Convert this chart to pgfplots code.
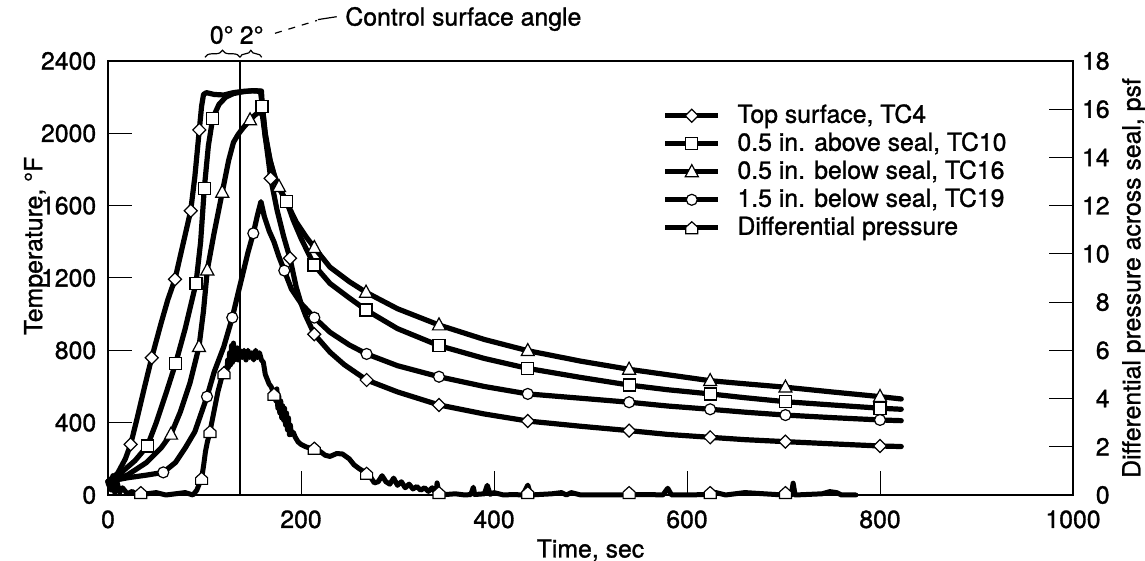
\documentclass[border=0pt]{standalone}
\usepackage{pgfplots}
\pgfplotsset{compat=1.18}
\usepackage{fontspec}
\setmainfont{TeX Gyre Heros}[FakeBold=1.2]
\usetikzlibrary{decorations.pathreplacing}

\pgfdeclareplotmark{rdiamond}{%
  \pgfpathmoveto{\pgfqpoint{0pt}{\pgfplotmarksize}}%
  \pgfpathlineto{\pgfqpoint{\pgfplotmarksize}{0pt}}%
  \pgfpathlineto{\pgfqpoint{0pt}{-\pgfplotmarksize}}%
  \pgfpathlineto{\pgfqpoint{-\pgfplotmarksize}{0pt}}%
  \pgfpathclose\pgfusepathqfillstroke}
\pgfdeclareplotmark{rtri}{%
  \pgfpathmoveto{\pgfqpoint{0pt}{1.1\pgfplotmarksize}}%
  \pgfpathlineto{\pgfqpoint{\pgfplotmarksize}{-0.75\pgfplotmarksize}}%
  \pgfpathlineto{\pgfqpoint{-\pgfplotmarksize}{-0.75\pgfplotmarksize}}%
  \pgfpathclose\pgfusepathqfillstroke}
\pgfdeclareplotmark{house}{%
  \pgfpathmoveto{\pgfqpoint{-\pgfplotmarksize}{-\pgfplotmarksize}}%
  \pgfpathlineto{\pgfqpoint{\pgfplotmarksize}{-\pgfplotmarksize}}%
  \pgfpathlineto{\pgfqpoint{\pgfplotmarksize}{0.1\pgfplotmarksize}}%
  \pgfpathlineto{\pgfqpoint{0pt}{\pgfplotmarksize}}%
  \pgfpathlineto{\pgfqpoint{-\pgfplotmarksize}{0.1\pgfplotmarksize}}%
  \pgfpathclose\pgfusepathqfillstroke}

\pgfplotsset{
  curve/.style={line width=2.6pt, line join=round, line cap=round, black, no markers},
  mk/.style={only marks, mark options={fill=white, draw=black, line width=0.6pt, solid}},
}

\begin{document}
\fontsize{12.4pt}{14.8pt}\selectfont
\begin{tikzpicture}
\begin{axis}[
  at={(0pt,0pt)}, anchor=south west,
  scale only axis, width=482.5pt, height=217pt,
  xmin=0, xmax=1000, ymin=0, ymax=2400,
  xtick={0,200,...,1000}, ytick={0,400,...,2400},
  xtick pos=bottom, ytick pos=left,
  tick align=inside, major tick length=12pt,
  every tick/.style={black, line width=0.5pt},
  axis line style={line width=0.8pt},
  /pgf/number format/assume math mode=true,
  /pgf/number format/1000 sep={},
  xticklabel style={inner sep=0pt, yshift=-7.5pt},
  yticklabel style={inner sep=0pt, xshift=-5.7pt},
  xlabel={Time, sec},
  xlabel style={at={(axis description cs:0.5,0)}, anchor=north, inner sep=0pt, yshift=-22pt},
  ylabel={Temperature, °F},
  ylabel style={at={(axis description cs:-0.0622,0.574)}, rotate=0, anchor=south, inner sep=0pt},
  clip=false,
]
% vertical reference line
\draw[line width=1pt] (axis cs:137,0) -- (axis cs:137,2400);
% TC4 top surface
\addplot[curve] coordinates {(0,75)(10,120)(18,200)(23.5,280)(30,420)(38,600)(45.3,759)(55,950)(62,1080)(69.4,1193)(77,1370)(85.7,1572)(90,1760)(94.6,2019)(97,2150)(99,2215)(102,2225)(110,2215)(120,2212)(130,2225)(140,2232)(150,2235)(158,2232)(160,2150)(163,1980)(166,1860)(168.6,1751)(175,1580)(182,1430)(188.6,1309)(195,1150)(200,1060)(205,990)(213.8,889)(230,790)(245,720)(268,636)(300,570)(343,498)(390,448)(435,409)(490,380)(540,356)(580,335)(624,319)(660,306)(702,295)(750,283)(800,271)(822,268)};
% TC10
\addplot[curve] coordinates {(0,75)(15,130)(28,190)(40.8,271)(50,400)(60,560)(70.1,728)(80,920)(91.2,1171)(96,1400)(99.8,1696)(104,1930)(108.5,2083)(115,2160)(122,2200)(130,2220)(140,2230)(150,2236)(159,2234)(160,2148)(163,2000)(168,1850)(175,1720)(180,1670)(185.2,1622)(192,1520)(200,1420)(213.5,1272)(230,1170)(250,1090)(267.4,1023)(300,920)(343,826)(390,755)(435,700)(490,650)(540,608)(580,582)(624,559)(660,538)(702,516)(750,498)(800,480)(822,474)};
% TC16
\addplot[curve] coordinates {(0,75)(20,110)(40,180)(55,260)(65.3,336)(75,460)(85,620)(94.3,820)(99,1020)(102.9,1244)(110,1450)(118.4,1674)(125,1850)(130,1950)(135,1995)(140,2030)(147.2,2074)(152,2100)(157,2120)(160,2100)(163,1980)(168,1850)(172,1770)(177.2,1705)(185,1620)(195,1510)(205,1430)(213.8,1368)(230,1260)(250,1180)(267.4,1121)(300,1030)(343,940)(390,860)(435,798)(490,740)(540,695)(580,665)(624,632)(660,615)(702,596)(750,570)(800,544)(822,531)};
% TC19
\addplot[curve] coordinates {(0,75)(20,95)(40,110)(57.3,125)(70,180)(80,260)(90,350)(102.6,544)(110,680)(120,820)(128.8,981)(135,1120)(140,1230)(145,1340)(150.6,1447)(155,1550)(158.5,1622)(162,1540)(167,1460)(172,1400)(177,1320)(182.7,1241)(190,1140)(200,1060)(213.8,981)(230,900)(250,830)(268,780)(300,715)(343,654)(390,600)(435,559)(490,535)(540,513)(580,492)(624,474)(660,458)(702,442)(750,428)(800,415)(822,411)};
% markers
\addplot[mk, mark=rdiamond, mark size=3.25pt] coordinates {(23.5,280)(45.3,759)(69.4,1193)(85.7,1572)(94.6,2019)(168.6,1751)(188.6,1309)(213.8,889)(268,636)(343,498)(435,409)(540,356)(624,319)(702,295)(800,271)};
\addplot[mk, mark=square*, mark size=3pt] coordinates {(40.8,271)(70.1,728)(91.2,1171)(99.8,1696)(108.5,2083)(159.5,2148)(185.2,1622)(213.5,1272)(267.4,1023)(343,826)(435,700)(540,608)(624,559)(702,516)(800,480)};
\addplot[mk, mark=rtri, mark size=3.25pt] coordinates {(65.3,336)(94.3,820)(102.9,1244)(118.4,1674)(147.2,2074)(177.2,1705)(213.8,1368)(267.4,1121)(343,940)(435,798)(540,695)(624,632)(702,596)(800,544)};
\addplot[mk, mark=*, mark size=2.75pt] coordinates {(57.3,125)(102.6,544)(128.8,981)(150.6,1447)(182.7,1241)(213.8,981)(268,780)(343,654)(435,559)(540,513)(624,474)(702,442)(800,415)};
\end{axis}

\begin{axis}[
  at={(0pt,0pt)}, anchor=south west,
  scale only axis, width=482.5pt, height=217pt,
  xmin=0, xmax=1000, ymin=0, ymax=18,
  ytick={0,2,...,18},
  axis x line=none, axis y line*=right,
  tick align=inside, major tick length=12pt,
  every tick/.style={black, line width=0.5pt},
  axis line style={line width=0.8pt},
  /pgf/number format/assume math mode=true,
  yticklabel style={anchor=east, inner sep=0pt, xshift=18.5pt},
  ylabel={Differential pressure across seal, psf},
  ylabel style={at={(axis description cs:1.0505,0.5)}, rotate=0, anchor=north, inner sep=0pt},
  clip=false,
  legend style={draw=none, fill=none, inner sep=0pt, outer sep=0pt,
    at={(axis description cs:0.5748,0.9037)}, anchor=north west,
    row sep=1pt, column sep=8.3pt,
    nodes={inner sep=0pt, text height=10pt, text depth=3pt}},
  legend cell align=left,
  legend image code/.code={\draw[mark repeat=2,mark phase=2,#1] plot coordinates {(0pt,0pt) (13.25pt,0pt) (26.5pt,0pt)};},
]
\addplot[curve, line width=2.5pt, forget plot] coordinates {(0,0.5)(3,0.2)(5,0.8)(7,0.1)(9,0.6)(12,0.1)(15,0.3)(20,0.05)(25,0.15)(30,0.0)(40,0.05)(50,0.1)(60,0.0)(70,0.05)(80,0.1)(88,0)(92,0.2)(95,0.5)(97,0.69)(99,1.2)(101,1.8)(103,2.2)(105.7,2.63)(108,3.1)(110,3.5)(112,3.9)(114,4.3)(116,4.6)(118,4.9)(120.2,5.07)(122,5.3)(123,5.0)(124,5.6)(125,5.3)(126,5.9)(127,5.4)(128,6.2)(129,5.5)(130,6.3)(131,5.6)(132,6.1)(133,5.7)(134,6.1)(135,5.6)(137,6.0)(139,5.7)(141,6.0)(143,5.6)(145,6.0)(147,5.7)(149,5.9)(151,5.6)(153,6.0)(155,5.7)(157,5.9)(159,5.6)(161,5.5)(163,5.0)(165,4.8)(167,4.6)(169,4.5)(172,4.18)(174,3.9)(175,4.4)(176,3.6)(177,4.1)(178,3.4)(179,3.9)(180,3.2)(181,3.7)(182,3.1)(183,3.6)(184,2.9)(185,3.4)(186,2.7)(187,3.2)(188,2.5)(189,2.9)(190,2.5)(192,2.6)(194,2.4)(197,2.2)(200,2.1)(205,2.0)(213,1.9)(220,1.8)(225,1.65)(230,1.6)(237,1.72)(243,1.7)(250,1.5)(255,1.25)(260,1.1)(268,0.9)(272,0.75)(276,0.5)(280,0.55)(284,0.8)(288,0.55)(292,0.45)(296,0.7)(300,0.4)(304,0.55)(308,0.3)(312,0.45)(316,0.25)(320,0.35)(324,0.2)(328,0.3)(332,0.15)(336,0.3)(340,0.05)(341,0.5)(343,0.05)(350,0.02)(360,0.05)(370,0.0)(376,0.02)(378.6,0.32)(380,0.02)(390,0.05)(393,0.4)(396,0.03)(400,0.1)(410,0.0)(420,0.02)(430,0.0)(435,0.41)(438,0.0)(460,0.05)(470,0.1)(475,0.0)(480,0.1)(490,0.0)(530,0.0)(560,0.02)(575,0.0)(580,0.28)(584,0.0)(600,0.0)(620,0.02)(630,0.1)(640,0.0)(650,0.05)(660,0.1)(700,0.0)(708,0.0)(710,0.49)(712,0.0)(740,0.05)(748,0.14)(755,0.1)(760,0.0)(775,0.0)};
\addplot[mk, mark=house, mark size=3pt, forget plot] coordinates {(34,0.1)(97,0.69)(105.7,2.63)(120.2,5.07)(172,4.18)(213.8,1.94)(268,0.9)(343,0.1)(435,0.1)(540,0.1)(624,0.1)(702,0.1)};
\addlegendimage{line width=2.6pt, black, mark=rdiamond, mark size=3.25pt, mark options={fill=white, line width=0.6pt, solid}}
\addlegendentry{Top surface, TC4}
\addlegendimage{line width=2.6pt, black, mark=square*, mark size=3pt, mark options={fill=white, line width=0.6pt, solid}}
\addlegendentry{0.5 in. above seal, TC10}
\addlegendimage{line width=2.6pt, black, mark=rtri, mark size=3.25pt, mark options={fill=white, line width=0.6pt, solid}}
\addlegendentry{0.5 in. below seal, TC16}
\addlegendimage{line width=2.6pt, black, mark=*, mark size=2.75pt, mark options={fill=white, line width=0.6pt, solid}}
\addlegendentry{1.5 in. below seal, TC19}
\addlegendimage{line width=2.6pt, black, mark=house, mark size=3pt, mark options={fill=white, line width=0.6pt, solid}}
\addlegendentry{Differential pressure}
\end{axis}

% annotation above the plot (picture coordinates in pt, axis south west at origin)
\node[inner sep=0pt] at (56.85pt,230pt) {0°};
\node[inner sep=0pt] at (71.85pt,230pt) {2°};
\draw[line width=0.6pt, decorate, decoration={brace, amplitude=3.5pt}] (48.5pt,218.85pt) -- (66pt,218.85pt);
\draw[line width=0.6pt, decorate, decoration={brace, amplitude=3.5pt}] (66pt,218.85pt) -- (76.85pt,218.85pt);
\draw[line width=0.6pt, dash pattern=on 3.5pt off 3.5pt] (83.5pt,230.85pt) -- (104.5pt,237.25pt);
\draw[line width=0.6pt] (105pt,237.7pt) -- (114.35pt,239.15pt);
\node[anchor=west, inner sep=0pt] at (118.5pt,238pt) {Control surface angle};

\pgfresetboundingbox
\path[use as bounding box] (-54pt,-33pt) rectangle (518.5pt,247.5pt);
\end{tikzpicture}
\end{document}
